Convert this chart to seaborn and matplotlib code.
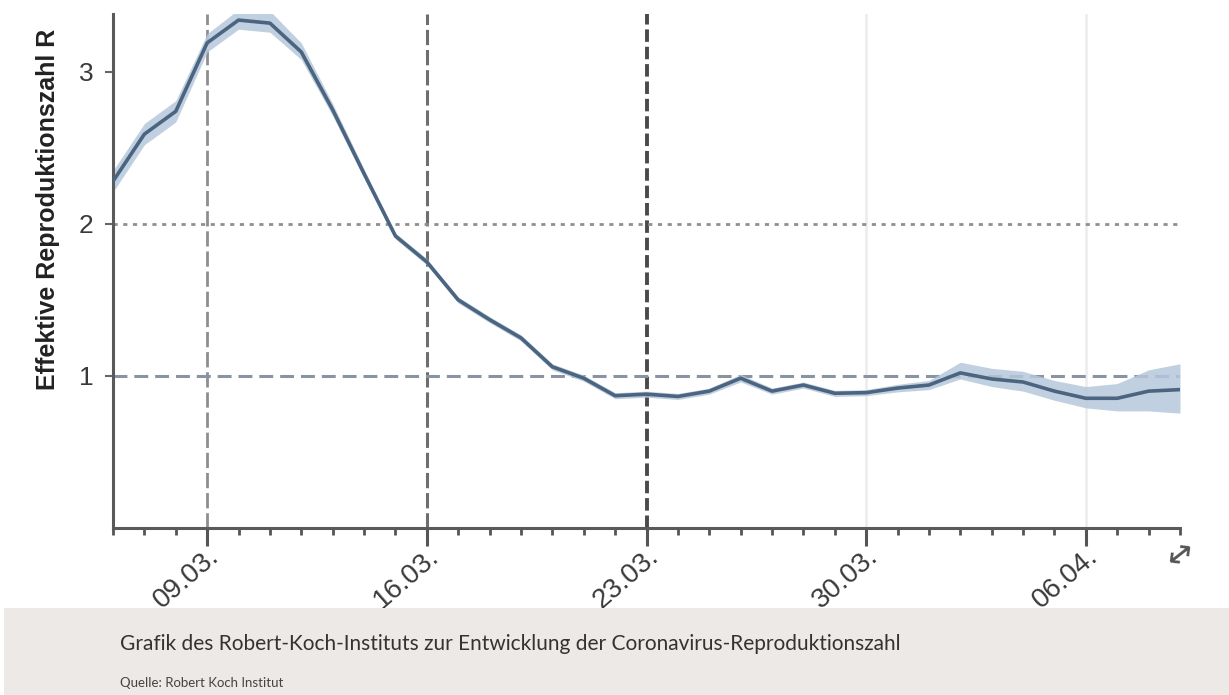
import matplotlib
matplotlib.use("Agg")
import matplotlib.pyplot as plt
import matplotlib.dates as mdates
from matplotlib.patches import Rectangle
import numpy as np
import pandas as pd
import seaborn as sns

# Daily estimate of the effective reproduction number with its uncertainty band
start_date = "2020-03-06"
r_value = [2.28, 2.59, 2.74, 3.19, 3.34, 3.32, 3.13, 2.75, 2.33, 1.92,
           1.75, 1.50, 1.37, 1.25, 1.06, 0.985, 0.87, 0.88, 0.865, 0.90,
           0.985, 0.90, 0.94, 0.886, 0.89, 0.92, 0.94, 1.02, 0.98, 0.96,
           0.90, 0.853, 0.853, 0.90, 0.91]
r_lower = [2.21, 2.52, 2.67, 3.13, 3.28, 3.26, 3.08, 2.71, 2.30, 1.90,
           1.73, 1.48, 1.35, 1.23, 1.04, 0.965, 0.85, 0.86, 0.845, 0.88,
           0.96, 0.88, 0.92, 0.865, 0.87, 0.895, 0.91, 0.98, 0.93, 0.90,
           0.84, 0.79, 0.77, 0.77, 0.755]
r_upper = [2.35, 2.66, 2.81, 3.25, 3.41, 3.40, 3.19, 2.79, 2.36, 1.94,
           1.77, 1.52, 1.39, 1.27, 1.08, 1.005, 0.89, 0.90, 0.885, 0.92,
           1.01, 0.92, 0.96, 0.905, 0.91, 0.945, 0.97, 1.09, 1.05, 1.03,
           0.97, 0.93, 0.95, 1.04, 1.08]

major_dates = ["2020-03-09", "2020-03-16", "2020-03-23", "2020-03-30", "2020-04-06"]
y_ticks = [1, 2, 3]
y_label = "Effektive Reproduktionszahl R"
caption = "Grafik des Robert-Koch-Instituts zur Entwicklung der Coronavirus-Reproduktionszahl"
source = "Quelle: Robert Koch Institut"

dates = pd.date_range(start_date, periods=len(r_value), freq="D")
df = pd.DataFrame({"Datum": dates, "R": r_value, "lo": r_lower, "hi": r_upper})

sns.set_style("ticks")
plt.rcParams["font.family"] = ["Liberation Sans", "DejaVu Sans"]
plt.rcParams["lines.scale_dashes"] = False

fig = plt.figure(figsize=(12.29, 6.95), dpi=100)
ax = fig.add_axes([113 / 1229, 1 - 528 / 695, (1180 - 113) / 1229, (528 - 14) / 695])

# caption band at the bottom
fig.patches.append(Rectangle((4 / 1229, 0), 1, 87 / 695, transform=fig.transFigure,
                             facecolor="#ece9e6", edgecolor="none", zorder=0))

major = pd.to_datetime(major_dates)

# reference lines
ax.axvline(major[0], color="#8e8e8e", lw=2.0, ls=(0, (11, 3.5)), zorder=1)
ax.axvline(major[1], color="#6e6e6e", lw=2.2, ls=(0, (11, 3.5)), zorder=1)
ax.axvline(major[2], color="#4a4a4a", lw=2.8, ls=(0, (9, 3.5)), zorder=1)
ax.axvline(major[3], color="#ececec", lw=1.8, zorder=0.5)
ax.axvline(major[4], color="#ececec", lw=1.8, zorder=0.5)
ax.axhline(2, color="#8f8f8f", lw=2.0, ls=(0, (3, 4)), zorder=1)
ax.axhline(1, color="#8a93a3", lw=2.2, ls=(0, (10, 5)), zorder=1)

ax.fill_between(df["Datum"], df["lo"], df["hi"], color="#b6c8dc", alpha=0.85,
                lw=0, zorder=2)
sns.lineplot(data=df, x="Datum", y="R", ax=ax, color="#4b6580", lw=2.6, zorder=3)

ax.set_xlim(dates[0], dates[-1])
ax.set_ylim(0, 3.38)
ax.set_yticks(y_ticks)
ax.set_yticklabels([str(v) for v in y_ticks], fontsize=19, color="#3a3a3a")
ax.set_xticks(major)
ax.set_xticklabels([d.strftime("%d.%m.") for d in major], rotation=41, ha="right",
                   rotation_mode="anchor", fontsize=20, color="#3a3a3a")
ax.xaxis.set_minor_locator(mdates.DayLocator())
ax.tick_params(axis="x", which="major", length=13, width=2.2, color="#555555", pad=-2)
ax.tick_params(axis="x", which="minor", length=5, width=2, color="#555555")
ax.tick_params(axis="y", length=6, width=1.5, color="#666666", pad=8)

ax.set_xlabel("")
ax.set_ylabel(y_label, fontsize=18, fontweight="bold", color="#222222")
ax.yaxis.set_label_coords(-0.050, 0.62)

for side in ("top", "right"):
    ax.spines[side].set_visible(False)
for side in ("left", "bottom"):
    ax.spines[side].set_color("#5a5a5a")
    ax.spines[side].set_linewidth(2.2)

# scroll hint arrow
fig.text(1181 / 1229, 1 - 555 / 695, "\u2194", fontsize=24, color="#555555",
         rotation=38, ha="center", va="center", family=["DejaVu Sans"])

fig.text(120 / 1229, 1 - 644 / 695, caption, fontsize=15, color="#333333",
         ha="left", va="center", family=["Lato", "DejaVu Sans"])
fig.text(120 / 1229, 1 - 683 / 695, source, fontsize=9.5, color="#444444",
         ha="left", va="center", family=["Lato", "DejaVu Sans"])

fig.savefig("out.png", dpi=100, facecolor="white")
